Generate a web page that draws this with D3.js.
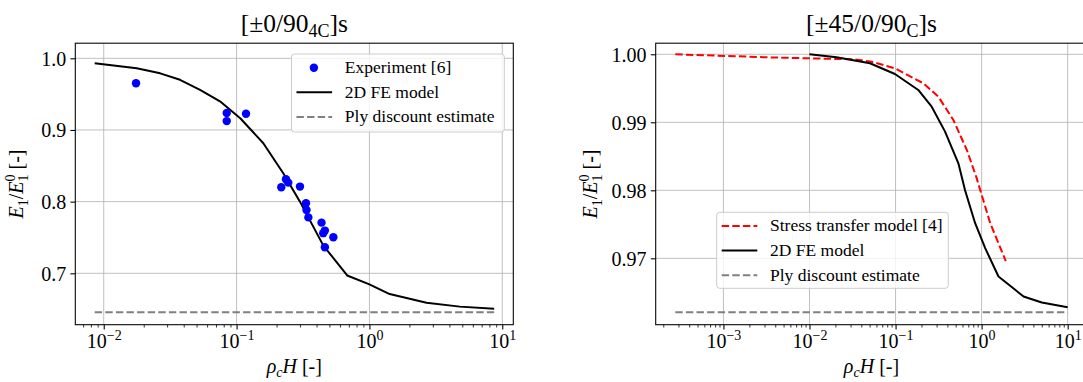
<!DOCTYPE html>
<html>
<head>
<meta charset="utf-8">
<script src="https://cdn.jsdelivr.net/npm/d3@7"></script>
<style>
  body { margin: 0; background: #fff; }
  svg { display: block; }
</style>
</head>
<body>
<svg id="chart" width="1083" height="382"></svg>
<script>
// ---- [±0/90_4C]s laminate ----
const crossPlyExpRhoH = [0.0175, 0.0843, 0.0843, 0.1178, 0.2355, 0.245, 0.217, 0.300, 0.333, 0.336, 0.347, 0.436, 0.462, 0.449, 0.535, 0.462];
const crossPlyExpE    = [0.9651, 0.9236, 0.9124, 0.9227, 0.8312, 0.8265, 0.820, 0.821, 0.7978, 0.7884, 0.778, 0.7707, 0.7596, 0.756, 0.7504, 0.7364];
const crossPlyFERhoH  = [0.00855, 0.0177, 0.0266, 0.0375, 0.0531, 0.075, 0.107, 0.159, 0.224, 0.30, 0.449, 0.68, 1.0, 1.42, 2.69, 4.79, 8.69];
const crossPlyFEE     = [0.993, 0.986, 0.979, 0.970, 0.956, 0.940, 0.916, 0.8815, 0.84, 0.80, 0.739, 0.697, 0.6845, 0.671, 0.659, 0.6535, 0.6507];
const crossPlyDiscountRhoH = [0.00855, 8.69];
const crossPlyDiscountE    = [0.6456, 0.6456];

// ---- [±45/0/90_C]s laminate ----
const quasiFERhoH = [0.01, 0.0206, 0.0504, 0.0984, 0.1836, 0.263, 0.376, 0.537, 0.642, 0.839, 1.1, 1.57, 3.07, 5.0, 10];
const quasiFEE    = [1.0, 0.99956, 0.99868, 0.9971, 0.99475, 0.99229, 0.98863, 0.98397, 0.98, 0.9752, 0.9715, 0.96733, 0.96439, 0.9635, 0.9628];
const quasiStressRhoH = [0.000276, 0.00316, 0.01, 0.0322, 0.0527, 0.0984, 0.21, 0.314, 0.47, 0.673, 0.87, 1.26, 1.91];
const quasiStressE    = [1.0, 0.99956, 0.99941, 0.99926, 0.9989, 0.99794, 0.99574, 0.99377, 0.99034, 0.98593, 0.9819, 0.97515, 0.9696];
const quasiDiscountRhoH = [0.000276, 10];
const quasiDiscountE    = [0.96206, 0.96206];

// ---- ticks ----
const leftXTickExps  = [-2, -1, 0, 1];
const rightXTickExps = [-3, -2, -1, 0, 1];
const leftYTicks  = [0.7, 0.8, 0.9, 1.0];
const rightYTicks = [0.97, 0.98, 0.99, 1.00];

const FONT = "'Liberation Serif', 'DejaVu Serif', serif";

const svg = d3.select("#chart");
svg.append("rect").attr("width", 1083).attr("height", 382).attr("fill", "#fff");

const zip = (xs, ys) => xs.map((v, i) => [v, ys[i]]);

function minorTicks(domain) {
  const out = [];
  const lo = Math.floor(Math.log10(domain[0])), hi = Math.ceil(Math.log10(domain[1]));
  for (let e = lo; e <= hi; e++) {
    for (let m = 2; m <= 9; m++) {
      const v = m * Math.pow(10, e);
      if (v >= domain[0] && v <= domain[1]) out.push(v);
    }
  }
  return out;
}

function panel(o) {
  const g = svg.append("g");
  const x = d3.scaleLog().domain(o.xDomain).range([o.left, o.right]);
  const y = d3.scaleLinear().domain(o.yDomain).range([o.bottom, o.top]);
  const xMajors = o.xExps.map(e => Math.pow(10, e));

  // grid
  g.append("g").selectAll("line").data(xMajors).join("line")
    .attr("x1", d => x(d)).attr("x2", d => x(d))
    .attr("y1", o.top).attr("y2", o.bottom)
    .attr("stroke", "#b0b0b0").attr("stroke-width", 0.8);
  g.append("g").selectAll("line").data(o.yTicks).join("line")
    .attr("x1", o.left).attr("x2", o.right)
    .attr("y1", d => y(d)).attr("y2", d => y(d))
    .attr("stroke", "#b0b0b0").attr("stroke-width", 0.8);

  // data
  const line = d3.line().x(d => x(d[0])).y(d => y(d[1]));
  o.series.forEach(s => {
    if (s.type === "line") {
      g.append("path").datum(zip(s.xs, s.ys)).attr("d", line)
        .attr("fill", "none").attr("stroke", s.color).attr("stroke-width", 2)
        .attr("stroke-dasharray", s.dash || null)
        .attr("stroke-linejoin", "round");
    } else {
      g.append("g").selectAll("circle").data(zip(s.xs, s.ys)).join("circle")
        .attr("cx", d => x(d[0])).attr("cy", d => y(d[1])).attr("r", 4.2)
        .attr("fill", s.color);
    }
  });

  // axes
  const xAxis = g.append("g").attr("transform", `translate(0,${o.bottom})`)
    .call(d3.axisBottom(x).tickValues(xMajors).tickSize(4.9).tickSizeOuter(0).tickFormat(""));
  xAxis.select(".domain").remove();
  xAxis.selectAll(".tick line").attr("stroke-width", 1.07);
  xAxis.selectAll(".tick").each(function (d) {
    const t = d3.select(this).append("text")
      .attr("y", 23.5).attr("text-anchor", "middle")
      .style("font-size", "20px").attr("fill", "#000");
    const e = Math.round(Math.log10(d));
    t.append("tspan").text("10");
    t.append("tspan").attr("dy", -8.5).style("font-size", "14px")
      .text(e < 0 ? "\u2212" + (-e) : String(e));
  });
  const xMinor = g.append("g").attr("transform", `translate(0,${o.bottom})`)
    .call(d3.axisBottom(x).tickValues(minorTicks(o.xDomain)).tickSize(2.8).tickSizeOuter(0).tickFormat(""));
  xMinor.select(".domain").remove();
  xMinor.selectAll(".tick line").attr("stroke-width", 0.8);

  const yAxis = g.append("g").attr("transform", `translate(${o.left},0)`)
    .call(d3.axisLeft(y).tickValues(o.yTicks).tickSize(4.9).tickPadding(4.2)
      .tickSizeOuter(0).tickFormat(d3.format(o.yFormat)));
  yAxis.select(".domain").remove();
  yAxis.selectAll(".tick line").attr("stroke-width", 1.07);
  yAxis.selectAll(".tick text").style("font-size", "20px").attr("dy", "0.34em");

  // spines
  g.append("rect").attr("x", o.left).attr("y", o.top)
    .attr("width", o.right - o.left).attr("height", o.bottom - o.top)
    .attr("fill", "none").attr("stroke", "#000").attr("stroke-width", 1.07);

  // title
  const cx = (o.left + o.right) / 2;
  const tt = g.append("text").attr("x", cx).attr("y", 32).attr("text-anchor", "middle").style("font-size", "25.5px");
  tt.append("tspan").text(o.titleMain);
  tt.append("tspan").attr("dy", 5).style("font-size", "18px").text(o.titleSub);
  tt.append("tspan").attr("dy", -5).text("]s");

  // x label
  const xl = g.append("text").attr("x", cx).attr("y", 373).attr("text-anchor", "middle").style("font-size", "20px");
  xl.append("tspan").style("font-style", "italic").text("\u03c1");
  xl.append("tspan").attr("dy", 4).style("font-style", "italic").style("font-size", "14px").text("c");
  xl.append("tspan").attr("dy", -4).style("font-style", "italic").text("H");
  xl.append("tspan").text("\u00a0[-]");

  // y label
  const yc = (o.top + o.bottom) / 2;
  const yl = g.append("text").attr("transform", `translate(${o.yLabelX},${yc}) rotate(-90)`)
    .attr("text-anchor", "middle").style("font-size", "20px");
  yl.append("tspan").style("font-style", "italic").text("E");
  yl.append("tspan").attr("dy", 5).style("font-size", "14px").text("1");
  yl.append("tspan").attr("dy", -5).text("/");
  yl.append("tspan").style("font-style", "italic").text("E");
  yl.append("tspan").attr("dy", 5).style("font-size", "14px").text("1");
  yl.append("tspan").attr("dx", -7).attr("dy", -13).style("font-size", "14px").text("0");
  yl.append("tspan").attr("dy", 8).text("\u00a0[-]");

  // legend
  const L = o.legend;
  const lg = g.append("g").attr("transform", `translate(${L.x},${L.y})`);
  lg.append("rect").attr("width", L.w).attr("height", L.h).attr("rx", 3)
    .attr("fill", "#fff").attr("fill-opacity", 0.8)
    .attr("stroke", "#cccccc").attr("stroke-width", 1);
  L.entries.forEach((en, i) => {
    const ry = 13.7 + i * 24.6;
    if (en.type === "marker") {
      lg.append("circle").attr("cx", 22.4).attr("cy", ry).attr("r", 4.2).attr("fill", en.color);
    } else {
      lg.append("line").attr("x1", 5).attr("x2", 40.6).attr("y1", ry).attr("y2", ry)
        .attr("stroke", en.color).attr("stroke-width", 2).attr("stroke-dasharray", en.dash || null);
    }
    lg.append("text").attr("x", 53.3).attr("y", ry + 5.5).style("font-size", "17.5px").text(en.label);
  });
}

const DASH = "7.4,3.2";

panel({
  left: 75.3, right: 513.3, top: 43.2, bottom: 324.7,
  xDomain: [Math.pow(10, -2.214), Math.pow(10, 1.083)],
  yDomain: [0.62828, 1.02107],
  xExps: leftXTickExps, yTicks: leftYTicks, yFormat: ".1f",
  titleMain: "[\u00b10/90", titleSub: "4C",
  yLabelX: 22.5,
  series: [
    { type: "line", xs: crossPlyDiscountRhoH, ys: crossPlyDiscountE, color: "#808080", dash: DASH },
    { type: "line", xs: crossPlyFERhoH, ys: crossPlyFEE, color: "#000" },
    { type: "scatter", xs: crossPlyExpRhoH, ys: crossPlyExpE, color: "#0000ff" }
  ],
  legend: {
    x: 291.5, y: 54, w: 212.8, h: 78,
    entries: [
      { type: "marker", color: "#0000ff", label: "Experiment [6]" },
      { type: "line", color: "#000", label: "2D FE model" },
      { type: "line", color: "#808080", dash: DASH, label: "Ply discount estimate" }
    ]
  }
});

panel({
  left: 655.7, right: 1087.3, top: 43.2, bottom: 324.7,
  xDomain: [Math.pow(10, -3.787), Math.pow(10, 1.228)],
  yDomain: [0.96024, 1.00163],
  xExps: rightXTickExps, yTicks: rightYTicks, yFormat: ".2f",
  titleMain: "[\u00b145/0/90", titleSub: "C",
  yLabelX: 596.5,
  series: [
    { type: "line", xs: quasiDiscountRhoH, ys: quasiDiscountE, color: "#808080", dash: DASH },
    { type: "line", xs: quasiStressRhoH, ys: quasiStressE, color: "#ff0000", dash: DASH },
    { type: "line", xs: quasiFERhoH, ys: quasiFEE, color: "#000" }
  ],
  legend: {
    x: 716.7, y: 212.3, w: 231.6, h: 76,
    entries: [
      { type: "line", color: "#ff0000", dash: DASH, label: "Stress transfer model [4]" },
      { type: "line", color: "#000", label: "2D FE model" },
      { type: "line", color: "#808080", dash: DASH, label: "Ply discount estimate" }
    ]
  }
});

// serif face for every label (axis groups default to sans-serif)
svg.selectAll("text").style("font-family", FONT).attr("font-family", null);
</script>
</body>
</html>
